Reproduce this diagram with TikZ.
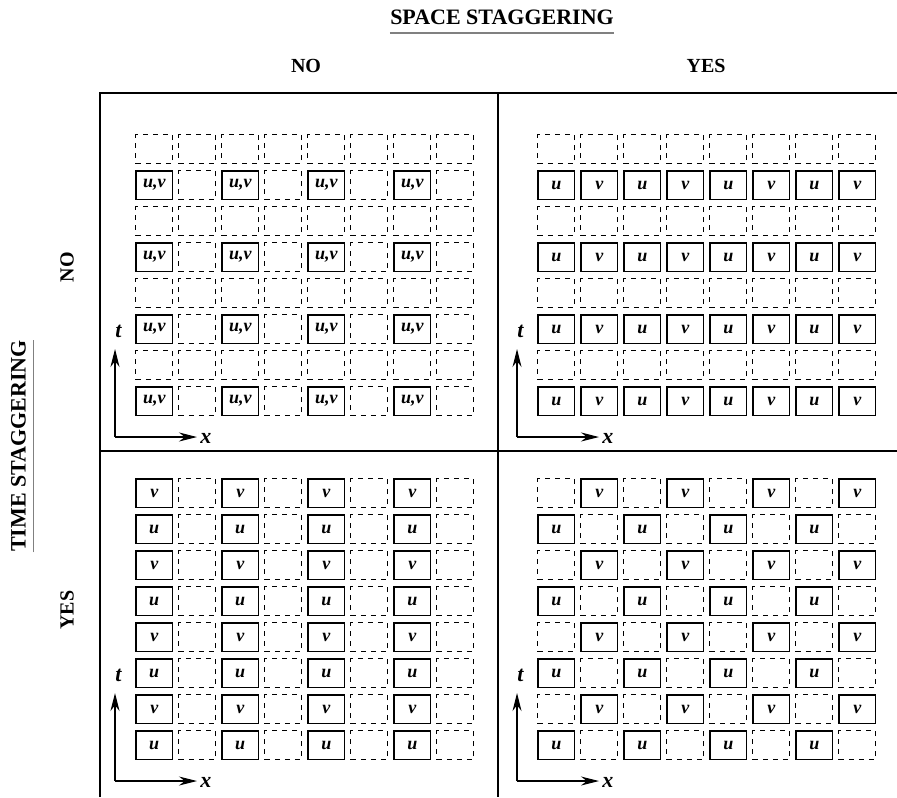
\documentclass[tikz,border=0pt]{standalone}
\usepackage{fontspec}
\setmainfont{Liberation Serif}
\usetikzlibrary{arrows.meta}
\tikzset{
  >=Stealth,
  cell/.style={draw,line width=.55pt,minimum width=18.3pt,minimum height=14.3pt,inner sep=0pt,
    font=\fontsize{9}{9}\selectfont\bfseries\itshape},
  blank/.style={cell,line width=.5pt,dash pattern=on 2.5pt off 2.5pt},
  frame/.style={line width=.7pt},
  uline/.style={line width=.8pt,draw=black!50},
  axis/.style={-{Stealth[length=9pt,width=4.5pt]},line width=.55pt},
  axlab/.style={inner sep=0pt,font=\fontsize{11}{11}\selectfont\bfseries\itshape},
  head/.style={inner sep=0pt,font=\fontsize{10}{10}\selectfont\bfseries},
  title/.style={inner sep=0pt,font=\fontsize{11}{11}\selectfont\bfseries}
}
\begin{document}
\begin{tikzpicture}[x=.5pt,y=-.5pt]
  \useasboundingbox (0,0) rectangle (897,797);
  % frame of the four panels
  \draw[frame] (100,797) -- (100,93) -- (897,93);
  \draw[frame] (498,93) -- (498,797);
  \draw[frame] (100,451) -- (897,451);
  % headings
  \node[title] (space) at (502,17.5) {SPACE STAGGERING};
  \draw[uline] ([yshift=-4.2pt]space.base west) -- ([yshift=-4.2pt]space.base east);
  \node[title,rotate=90] (time) at (18.5,446) {TIME STAGGERING};
  \draw[uline] ([xshift=4pt]time.base west) -- ([xshift=4pt]time.base east);
  \node[head] (sno) at (306,66) {NO};
  \node[head] (syes) at (706,66) {YES};
  \node[head,rotate=90] (tno) at (67,267) {NO};
  \node[head,rotate=90] (tyes) at (67,610) {YES};
  % no staggering
  \foreach \r in {0,...,7}
    \foreach \c in {0,...,7}{
      \pgfmathtruncatemacro{\on}{and(isodd(\r),iseven(\c))}
      \ifnum\on=1
        \node[cell] (a-\r-\c) at (154.25+43*\c,149.25+36*\r) {u,v};
      \else
        \node[blank] (a-\r-\c) at (154.25+43*\c,149.25+36*\r) {};
      \fi
    }
  % space staggering only
  \foreach \r in {0,...,7}
    \foreach \c in {0,...,7}{
      \ifodd\r\relax
        \node[cell] (b-\r-\c) at (556.25+43*\c,149.25+36*\r) {\ifodd\c\relax v\else u\fi};
      \else
        \node[blank] (b-\r-\c) at (556.25+43*\c,149.25+36*\r) {};
      \fi
    }
  % time staggering only
  \foreach \r in {0,...,7}
    \foreach \c in {0,...,7}{
      \ifodd\c\relax
        \node[blank] (c-\r-\c) at (154.25+43*\c,493.25+36*\r) {};
      \else
        \node[cell] (c-\r-\c) at (154.25+43*\c,493.25+36*\r) {\ifodd\r\relax u\else v\fi};
      \fi
    }
  % space and time staggering
  \foreach \r in {0,...,7}
    \foreach \c in {0,...,7}{
      \pgfmathtruncatemacro{\on}{isodd(\r+\c)}
      \ifnum\on=1
        \node[cell] (d-\r-\c) at (556.25+43*\c,493.25+36*\r) {\ifodd\r\relax u\else v\fi};
      \else
        \node[blank] (d-\r-\c) at (556.25+43*\c,493.25+36*\r) {};
      \fi
    }
  % axes
  \foreach \n/\ox/\oy in {A/115/437,B/517/437,C/115/781,D/517/781}{
    \coordinate (o\n) at (\ox,\oy);
    \coordinate (t\n) at (\ox,\oy-88);
    \coordinate (x\n) at (\ox+82,\oy);
    \draw[axis] (o\n) -- (t\n);
    \draw[axis] (o\n) -- (x\n);
    \node[axlab] (lt\n) at (\ox+3.5,\oy-106) {t};
    \node[axlab,anchor=west] (lx\n) at (\ox+85,\oy+1) {x};
  }
\end{tikzpicture}
\end{document}
